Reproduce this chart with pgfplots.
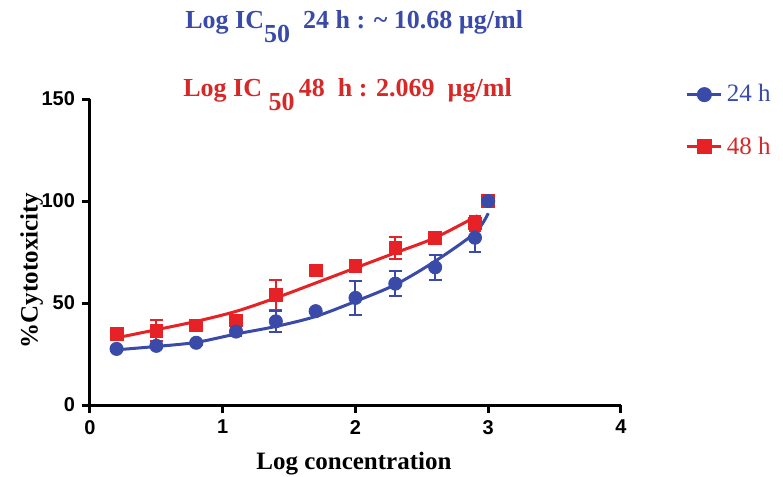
\documentclass[border=0pt]{standalone}
\usepackage{fontspec}
\setmainfont{Liberation Serif}
\setsansfont{Liberation Sans}
\usepackage{pgfplots}
\pgfplotsset{compat=1.18}
\definecolor{cblue}{RGB}{58,74,168}
\definecolor{cred}{RGB}{230,34,38}
\definecolor{tred}{RGB}{215,40,40}
\begin{document}
\begin{tikzpicture}
\useasboundingbox (-45pt,-36pt) rectangle (346.5pt,202.5pt);
\begin{axis}[
    scale only axis,
    width=265.5pt, height=153pt,
    xmin=0, xmax=4, ymin=0, ymax=150,
    axis lines=left,
    axis line style={line width=1.5pt, -},
    xtick={0,1,2,3,4},
    ytick={0,50,100,150},
    tick style={line width=1.5pt, black},
    tick align=outside,
    major tick length=4pt,
    ticklabel style={font=\fontsize{10}{12}\sffamily\bfseries},
    /pgf/number format/assume math mode=true,
    xlabel={Log concentration},
    ylabel={\%Cytotoxicity},
    xlabel style={font=\fontsize{12.5}{14}\bfseries, at={(axis description cs:0.497,-0.19)}, anchor=center},
    ylabel style={font=\fontsize{12.5}{14}\bfseries, at={(axis description cs:-0.11,0.44)}, anchor=center},
    clip=false,
    legend style={at={(axis description cs:1.11,1.075)}, anchor=north west,
        draw=none, fill=none, font=\fontsize{12.5}{14}\selectfont,
        row sep=12pt},
    legend cell align=left,
]
\addlegendimage{cblue, line width=1.5pt, mark=*, mark size=3pt}
\addlegendentry{\textcolor{cblue}{24 h}}
\addlegendimage{cred, line width=1.5pt, mark=square*, mark size=3pt}
\addlegendentry{\textcolor{tred}{48 h}}

% fitted curves
\addplot[cred, line width=1.5pt, smooth, no marks, forget plot] coordinates {
    (0.19,32.8) (0.5,36.9) (0.8,41) (1.1,45.9) (1.4,52.5) (1.7,59.8)
    (2.0,67.2) (2.3,74.6) (2.6,82) (2.92,92.8)
};
\addplot[cblue, line width=1.5pt, smooth, no marks, forget plot] coordinates {
    (0.19,27) (0.5,28.7) (0.8,30.7) (1.1,34.8) (1.4,38.5) (1.7,43.4)
    (2.0,50.8) (2.3,59) (2.6,70.5) (2.9,84.4) (3.0,94)
};

% 48 h data
\addplot[only marks, cred, mark=square*, mark size=3.2pt, forget plot,
    error bars/.cd, y dir=both, y explicit,
    error bar style={line width=1pt},
    error mark options={rotate=90, mark size=3.2pt, line width=1pt}]
coordinates {
    (0.2,35) +- (0,1.5)
    (0.5,36.5) +- (0,5)
    (0.8,39) +- (0,2.5)
    (1.1,41.5) +- (0,2)
    (1.4,54) +- (0,7.5)
    (1.7,66) +- (0,1.5)
    (2.0,68) +- (0,1.5)
    (2.3,77) +- (0,5.5)
    (2.6,82) +- (0,2.5)
    (2.9,89) +- (0,3.5)
    (3.0,100) +- (0,1)
};
% 24 h data
\addplot[only marks, cblue, mark=*, mark size=3.3pt, forget plot,
    error bars/.cd, y dir=both, y explicit,
    error bar style={line width=1pt},
    error mark options={rotate=90, mark size=3.2pt, line width=1pt}]
coordinates {
    (0.2,27.5) +- (0,1)
    (0.5,29) +- (0,1)
    (0.8,30.5) +- (0,1)
    (1.1,36) +- (0,2)
    (1.4,41) +- (0,5)
    (1.7,46) +- (0,1)
    (2.0,52.5) +- (0,8.5)
    (2.3,59.5) +- (0,6)
    (2.6,67.5) +- (0,6)
    (2.9,82) +- (0,7)
    (3.0,100) +- (0,1)
};
\end{axis}
\node[anchor=base west, text=cblue, font=\fontsize{13}{15}\bfseries, inner sep=0pt]
    at (47.5pt,188pt) {Log IC\raisebox{-1.1ex}{50}\ \ 24 h : \textasciitilde\ 10.68 µg/ml};
\node[anchor=base west, text=tred, font=\fontsize{13}{15}\selectfont, inner sep=0pt]
    at (46.5pt,154pt) {\textbf{Log IC \raisebox{-1.1ex}{50}\,48\ \ h : 2.069\ \ µg/ml}};
\end{tikzpicture}
\end{document}
